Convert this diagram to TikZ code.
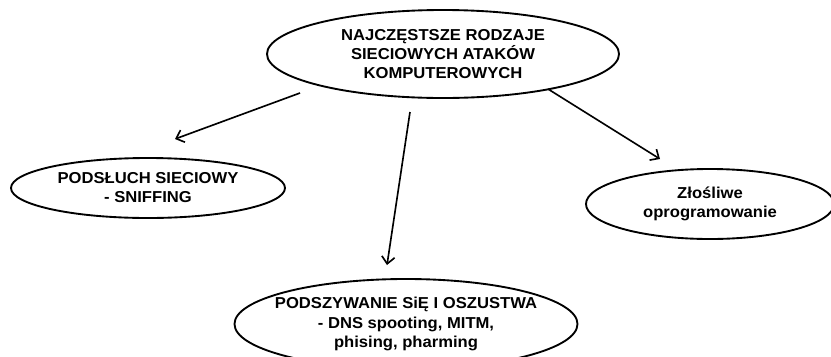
\documentclass[tikz,border=0pt]{standalone}
\usepackage{fontspec}
\setmainfont{Liberation Sans}[FakeStretch=1.05]
\usetikzlibrary{shapes.geometric,arrows.meta}

\begin{document}
\begin{tikzpicture}[x=0.03cm,y=-0.03cm,
  oval/.style={ellipse,draw,line width=1.6pt,inner sep=-14pt,align=center,
    font=\fontsize{13.5}{16.3}\selectfont\bfseries},
  arr/.style={line width=1.4pt,-{Straight Barb[length=6pt,width=11pt]}}]
\useasboundingbox (0,0) rectangle (831,356);

\node[oval,minimum width=10.56cm,minimum height=2.64cm] (main) at (443,54)
  {NAJCZĘSTSZE RODZAJE\\SIECIOWYCH ATAKÓW\\KOMPUTEROWYCH};
\node[oval,minimum width=8.22cm,minimum height=1.8cm] (sniff) at (148,188)
  {PODSŁUCH SIECIOWY\\- SNIFFING};
\node[oval,minimum width=7.44cm,minimum height=2.1cm] (malware) at (710,204)
  {Złośliwe\\oprogramowanie};
\node[oval,minimum width=10.29cm,minimum height=2.7cm] (spoof) at (406,324)
  {PODSZYWANIE SiĘ I OSZUSTWA\\- DNS spooting, MITM,\\phising, pharming};

\coordinate (m1) at (300,93);  \coordinate (s1) at (175,139);
\coordinate (m2) at (410,112); \coordinate (s2) at (387,265);
\coordinate (m3) at (548,89);  \coordinate (s3) at (660,159);

\draw[arr] (m1) -- (s1);
\draw[arr] (m2) -- (s2);
\draw[arr] (m3) -- (s3);
\end{tikzpicture}
\end{document}
